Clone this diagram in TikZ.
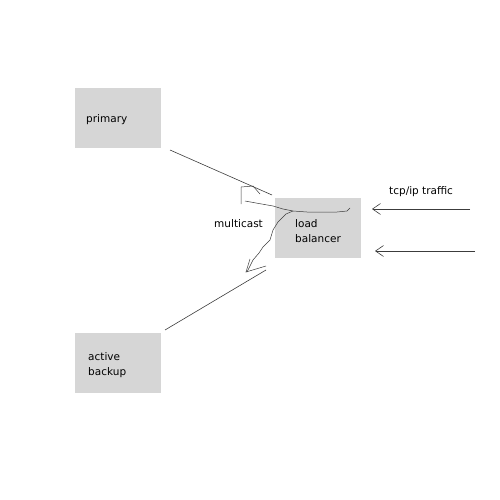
\documentclass[tikz,border=0pt]{standalone}
\usepackage{fontspec}
\setmainfont{DejaVu Sans}
\usepackage{xcolor}
\usetikzlibrary{arrows.meta}
\definecolor{boxgray}{RGB}{214,214,214}
\definecolor{pen}{RGB}{60,60,60}

\tikzset{
  server/.style={fill=boxgray,minimum width=86pt,minimum height=60pt,inner sep=0pt},
  lbl/.style={anchor=west,align=left,inner sep=0pt,font=\fontsize{10.5}{15}\selectfont},
  wire/.style={draw=pen,line width=0.6pt},
  feed/.style={wire,-{Straight Barb[length=8pt,width=11pt,line width=0.6pt]}}
}

\begin{document}
\begin{tikzpicture}[x=1pt,y=-1pt]
\useasboundingbox (0,0) rectangle (500,500);

\node[server] (primary) at (118,118) {};
\node[server] (lb) at (318,228) {};
\node[server] (backup) at (118,363) {};

\node[lbl] (primarytxt) at (86,120) {primary};
\node[lbl] (lbtxt) at (295,231) {load\\balancer};
\node[lbl] (backuptxt) at (88,365) {active\\backup};
\node[lbl] (mc) at (214,224) {multicast};
\node[lbl] (tcp) at (389,192) {tcp/ip traffic};

% links to the servers
\coordinate (p1) at (170,150);
\coordinate (p2) at (272,195);
\coordinate (b1) at (165,330);
\coordinate (b2) at (266,270);
\draw[wire] (p1) -- (p2);
\draw[wire] (b1) -- (b2);

% incoming traffic
\coordinate (t1) at (470,209);
\coordinate (t2) at (372,209);
\coordinate (t3) at (475,251);
\coordinate (t4) at (375,251);
\draw[feed] (t1) -- (t2);
\draw[feed] (t3) -- (t4);

% freehand multicast sketch
\draw[wire,line width=0.5pt] (241,204) -- (241,187) -- (253,186) -- (260,194);
\draw[wire,line width=0.5pt] (245,201) -- (256,203) -- (273,206) -- (283,209) -- (293,211)
  -- (307,212) -- (337,212) -- (347,211) -- (350,208);
\draw[wire,line width=0.5pt] (293,211) -- (286,214) -- (278,222) -- (273,230) -- (270,240)
  -- (263,247) -- (259,253) -- (253,260) -- (250,266) -- (247,272);
\draw[wire,line width=0.5pt] (250,259) -- (246,272) -- (266,266);
\end{tikzpicture}
\end{document}
